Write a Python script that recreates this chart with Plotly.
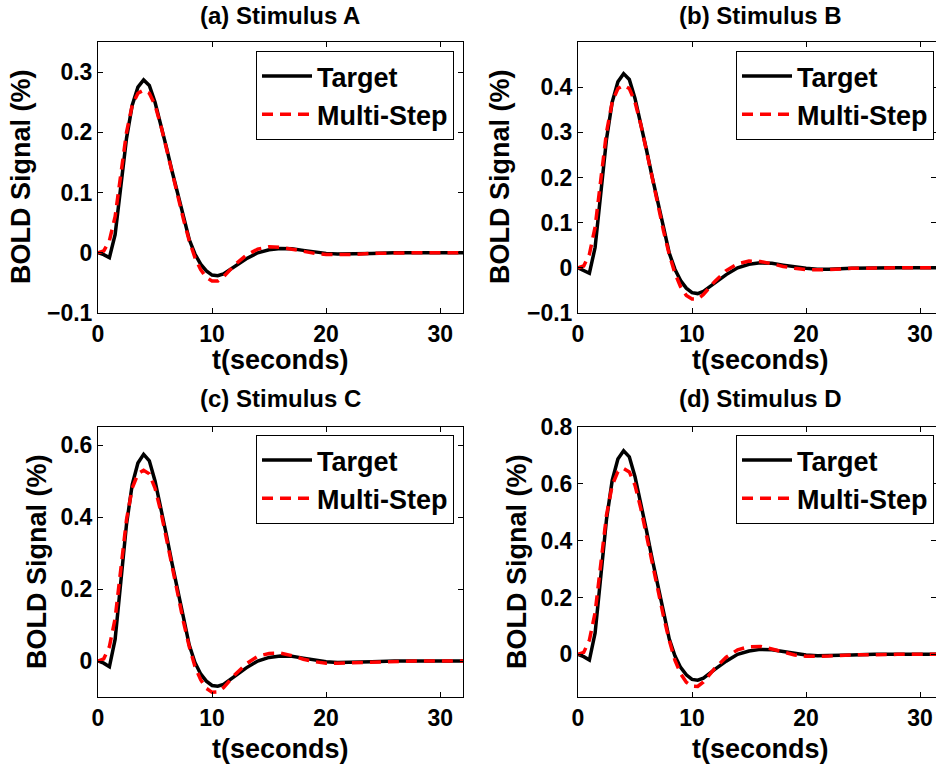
import plotly.graph_objects as go

# ---------------- data ----------------
t = [0, 0.5, 1, 1.5, 2, 2.5, 3, 3.5, 4, 4.5, 5, 5.5, 6, 6.5, 7, 7.5, 8, 8.5, 9, 9.5,
     10, 10.5, 11, 11.5, 12, 13, 14, 15, 16, 17, 18, 19, 20, 21, 22, 24, 26, 28, 30, 32]

target_a = [0, -0.003, -0.008, 0.03, 0.11, 0.19, 0.245, 0.275, 0.287, 0.278, 0.25, 0.215, 0.175, 0.135,
            0.095, 0.06, 0.022, -0.002, -0.019, -0.03, -0.037, -0.038, -0.035, -0.029, -0.022,
            -0.01, 0.0, 0.005, 0.007, 0.0065, 0.004, 0.001, -0.001, -0.002, -0.002, -0.001, 0, 0, 0, 0]
multi_a = [0, 0.003, 0.02, 0.06, 0.13, 0.2, 0.245, 0.265, 0.27, 0.265, 0.245, 0.212, 0.173, 0.132,
           0.092, 0.055, 0.02, -0.008, -0.028, -0.041, -0.047, -0.047, -0.04, -0.03, -0.02,
           -0.004, 0.006, 0.01, 0.009, 0.006, 0.002, -0.001, -0.003, -0.003, -0.003, -0.001, 0, 0, 0, 0]

target_b = [0, -0.005, -0.012, 0.045, 0.165, 0.285, 0.367, 0.412, 0.43, 0.417, 0.375, 0.322, 0.262, 0.202,
            0.142, 0.09, 0.033, -0.003, -0.028, -0.045, -0.055, -0.057, -0.052, -0.043, -0.033,
            -0.015, 0.0, 0.008, 0.011, 0.01, 0.006, 0.002, -0.001, -0.003, -0.003, -0.001, 0, 0, 0, 0]
multi_b = [0, 0.004, 0.03, 0.09, 0.195, 0.3, 0.367, 0.397, 0.404, 0.397, 0.367, 0.318, 0.26, 0.198,
           0.138, 0.082, 0.03, -0.012, -0.042, -0.061, -0.069, -0.069, -0.059, -0.045, -0.03,
           -0.006, 0.009, 0.015, 0.014, 0.009, 0.003, -0.001, -0.004, -0.004, -0.004, -0.001, 0, 0, 0, 0]

target_c = [0, -0.006, -0.016, 0.06, 0.22, 0.38, 0.49, 0.55, 0.574, 0.556, 0.5, 0.43, 0.35, 0.27,
            0.19, 0.12, 0.044, -0.004, -0.036, -0.056, -0.068, -0.07, -0.065, -0.054, -0.041,
            -0.019, 0.0, 0.01, 0.014, 0.013, 0.008, 0.002, -0.002, -0.004, -0.004, -0.002, 0, 0, 0, 0]
multi_c = [0, 0.006, 0.04, 0.118, 0.255, 0.393, 0.48, 0.52, 0.53, 0.52, 0.48, 0.416, 0.34, 0.26,
           0.181, 0.108, 0.04, -0.015, -0.052, -0.076, -0.087, -0.086, -0.074, -0.056, -0.038,
           -0.008, 0.013, 0.021, 0.022, 0.015, 0.005, -0.002, -0.006, -0.006, -0.005, -0.002, 0, 0, 0, 0]

target_d = [0, -0.008, -0.02, 0.075, 0.275, 0.475, 0.612, 0.687, 0.716, 0.695, 0.625, 0.537, 0.437, 0.337,
            0.237, 0.15, 0.055, -0.005, -0.046, -0.072, -0.088, -0.091, -0.084, -0.07, -0.053,
            -0.024, 0.0, 0.012, 0.0175, 0.016, 0.01, 0.003, -0.002, -0.005, -0.005, -0.002, 0, 0, 0, 0]
multi_d = [0, 0.007, 0.05, 0.147, 0.318, 0.49, 0.595, 0.643, 0.654, 0.642, 0.595, 0.515, 0.42, 0.32,
           0.224, 0.134, 0.05, -0.02, -0.068, -0.098, -0.112, -0.113, -0.097, -0.073, -0.049,
           -0.01, 0.016, 0.027, 0.028, 0.019, 0.007, -0.002, -0.007, -0.008, -0.006, -0.002, 0, 0, 0, 0]

titles = ["(a) Stimulus A", "(b) Stimulus B", "(c) Stimulus C", "(d) Stimulus D"]
series_names = ["Target", "Multi-Step"]
x_label = "t(seconds)"
y_label = "BOLD Signal (%)"
x_ticks = [0, 10, 20, 30]
y_ticks = [[-0.1, 0, 0.1, 0.2, 0.3],
           [-0.1, 0, 0.1, 0.2, 0.3, 0.4],
           [0, 0.2, 0.4, 0.6],
           [0, 0.2, 0.4, 0.6, 0.8]]
y_ranges = [[-0.1, 0.35], [-0.1, 0.5], [-0.1, 0.65], [-0.15, 0.8]]
x_ranges = [[0, 32], [0, 31.4], [0, 32], [0, 31.4]]

targets = [target_a, target_b, target_c, target_d]
multis = [multi_a, multi_b, multi_c, multi_d]

# ---------------- layout geometry (page pixels) ----------------
W, H = 936, 767
FONT = "Liberation Sans, Arial, sans-serif"


def px(x):
    return x / W


def py(y):
    return 1 - y / H


# plot boxes: (left, right, top, bottom) in px
boxes = [(98, 463, 42, 313), (578, 936, 42, 313),
         (98, 463, 427, 697), (578, 936, 427, 697)]
legend_pos = [(454, 51), (934, 51), (454, 435), (934, 435)]
title_pos = [(280, 15), (760, 15), (280, 398), (760, 398)]
xlab_pos = [(280, 360), (760, 360), (280, 749), (760, 749)]
ylab_pos = [(21, 177), (500, 177), (37, 562), (517, 562)]

fig = go.Figure()
layout = dict(width=W, height=H, margin=dict(l=0, r=0, t=0, b=0, autoexpand=False),
              paper_bgcolor="white", plot_bgcolor="white", showlegend=True,
              annotations=[])

for i in range(4):
    sfx = "" if i == 0 else str(i + 1)
    lg = "legend" if i == 0 else "legend" + str(i + 1)
    fig.add_trace(go.Scatter(x=t, y=targets[i], mode="lines", name=series_names[0],
                             line=dict(color="black", width=3.5),
                             xaxis="x" + sfx, yaxis="y" + sfx, legend=lg))
    fig.add_trace(go.Scatter(x=t, y=multis[i], mode="lines", name=series_names[1],
                             line=dict(color="#ff0000", width=3.5, dash="11px,7px"),
                             xaxis="x" + sfx, yaxis="y" + sfx, legend=lg))
    l, r, tp, b = boxes[i]
    axcommon = dict(showline=True, linecolor="black", linewidth=1, mirror="ticks",
                    ticks="inside", ticklen=5, tickcolor="black", showgrid=False,
                    zeroline=False, automargin=False,
                    tickfont=dict(family=FONT, size=23, color="black", weight="bold"))
    layout["xaxis" + sfx] = dict(domain=[px(l), min(1.0, px(r))], range=x_ranges[i], tickvals=x_ticks,
                                 anchor="y" + sfx, **axcommon)
    layout["yaxis" + sfx] = dict(domain=[py(b), py(tp)], range=y_ranges[i],
                                 tickvals=y_ticks[i], anchor="x" + sfx, **axcommon)
    lx, ly = legend_pos[i]
    layout[lg] = dict(x=px(lx), y=py(ly), xanchor="right", yanchor="top",
                      bgcolor="white", bordercolor="black", borderwidth=1,
                      font=dict(family=FONT, size=27, color="black", weight="bold"),
                      itemwidth=50, tracegroupgap=0)
    tx, ty = title_pos[i]
    layout["annotations"].append(dict(text=titles[i], x=px(tx), y=py(ty), xref="paper", yref="paper",
                                      showarrow=False, xanchor="center", yanchor="middle",
                                      font=dict(family=FONT, size=24, color="black", weight="bold")))
    xx, xy = xlab_pos[i]
    layout["annotations"].append(dict(text=x_label, x=px(xx), y=py(xy), xref="paper", yref="paper",
                                      showarrow=False, xanchor="center", yanchor="middle",
                                      font=dict(family=FONT, size=27, color="black", weight="bold")))
    yx, yy = ylab_pos[i]
    layout["annotations"].append(dict(text=y_label, x=px(yx), y=py(yy), xref="paper", yref="paper",
                                      showarrow=False, xanchor="center", yanchor="middle", textangle=-90,
                                      font=dict(family=FONT, size=27, color="black", weight="bold")))

fig.update_layout(**layout)
# remove the default 8px page margin so the figure fills the window exactly
fig.write_html("out.html", config={"displayModeBar": False},
               post_script="document.body.style.margin='0px';")
